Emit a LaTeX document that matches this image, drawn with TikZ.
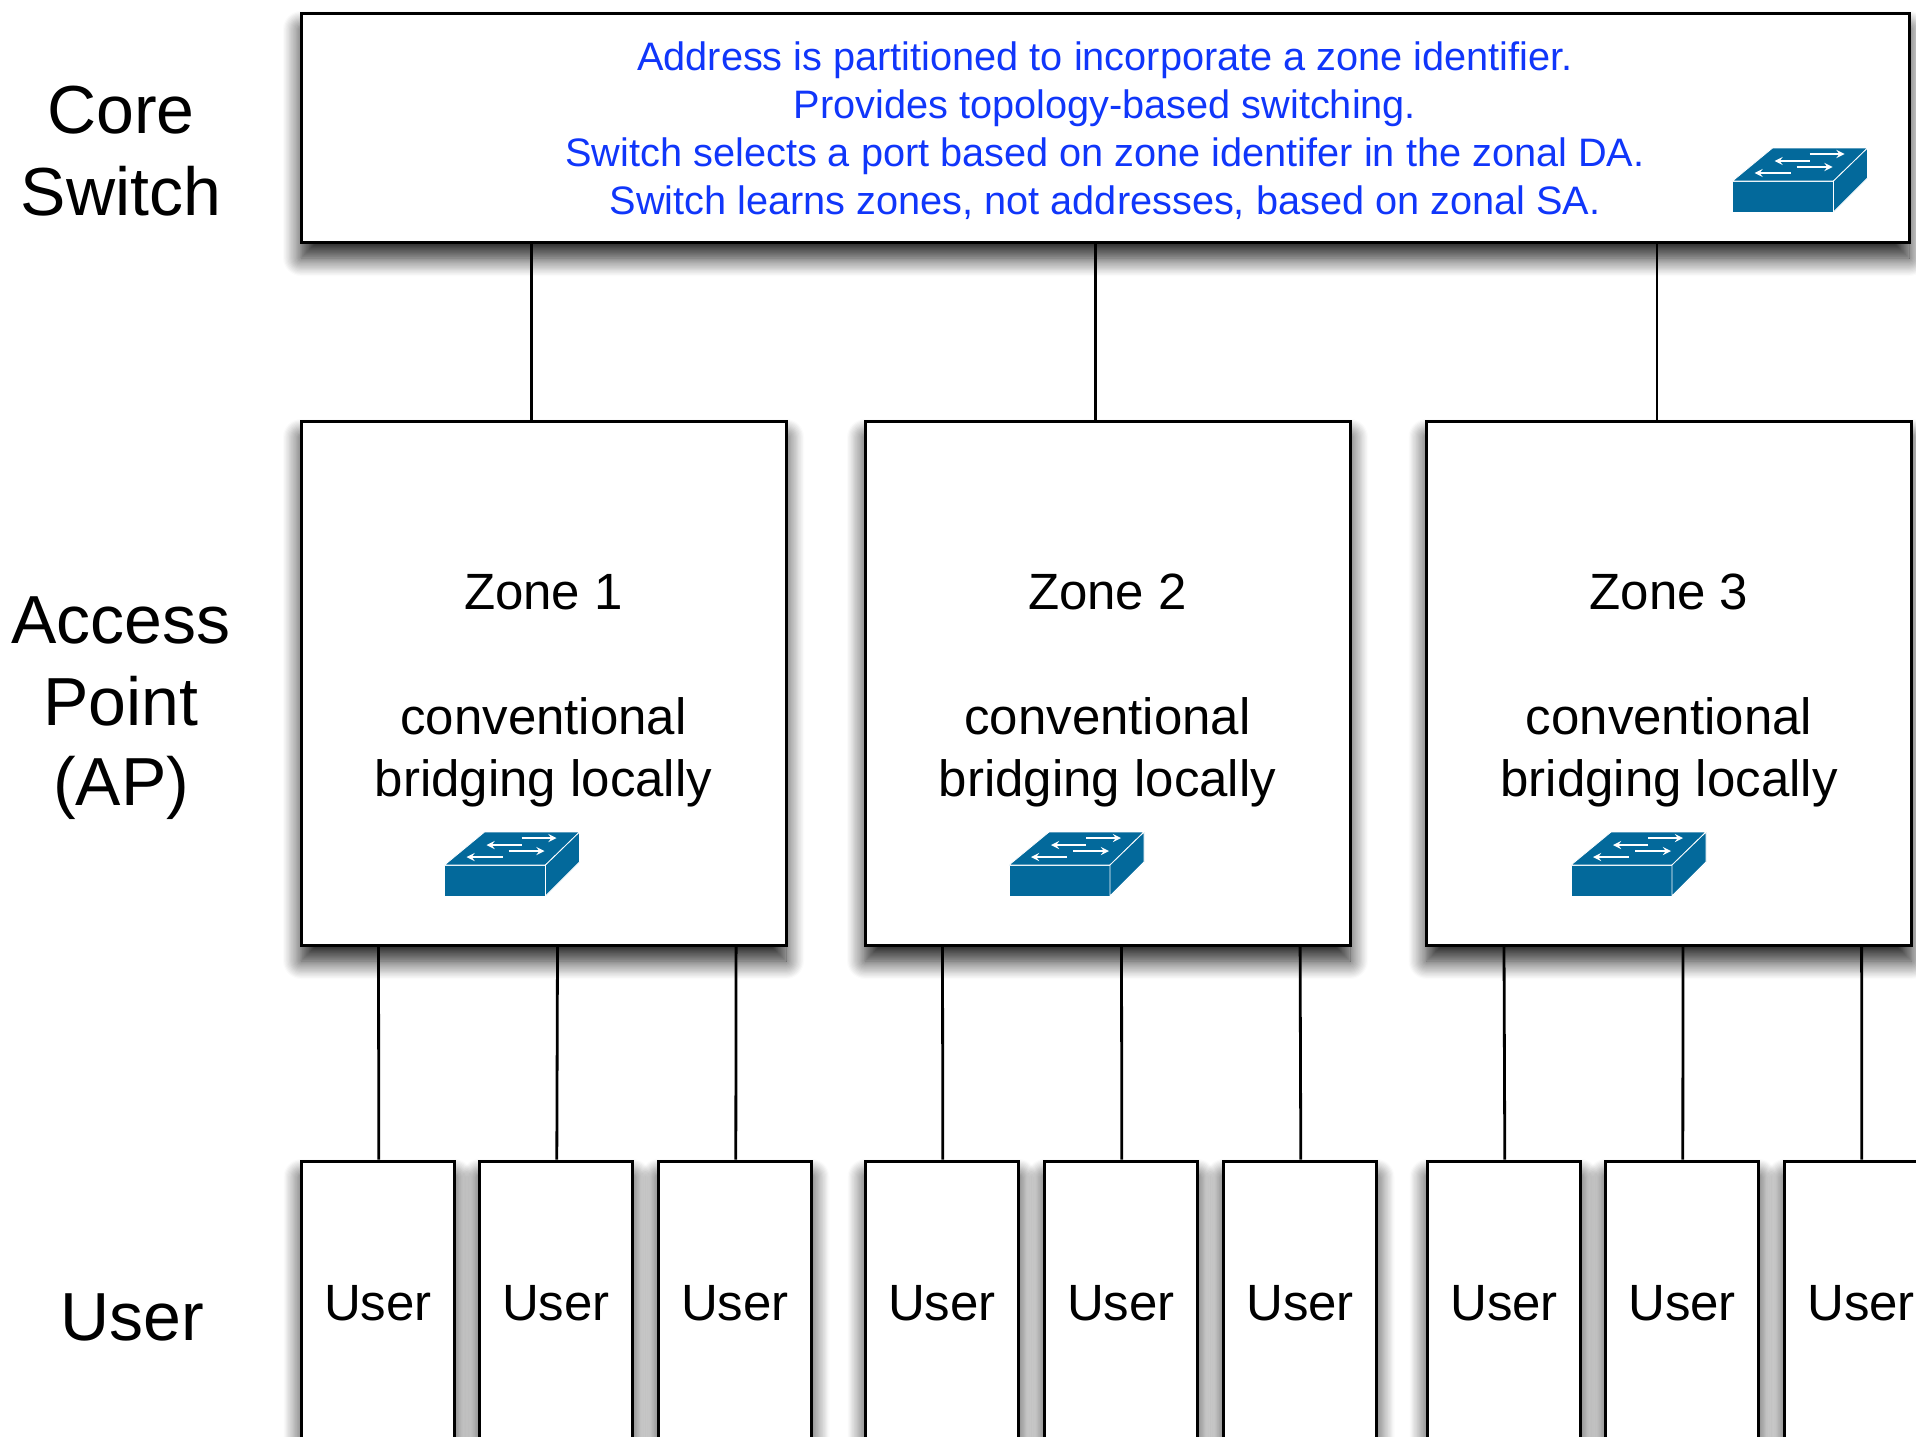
\documentclass[tikz,border=0pt]{standalone}
\usepackage{fontspec}
\setmainfont{Liberation Sans}
\usetikzlibrary{arrows,calc,shadows.blur}
\definecolor{switchblue}{HTML}{03699B}
\definecolor{noteblue}{HTML}{1036FA}
\tikzstyle{boxed}=[rectangle, draw=black, line width=1.5pt, fill=white, inner sep=0pt,
  blur shadow={shadow xshift=0pt, shadow yshift=-8pt, shadow blur radius=9pt, shadow blur steps=16, shadow opacity=90}]
\tikzstyle{core}=[boxed, minimum width=804pt, minimum height=114.5pt, align=center, text=noteblue, font=\fontsize{19.85}{24}\selectfont]
\tikzstyle{ap}=[boxed, minimum width=242.5pt, minimum height=262pt, align=center, font=\fontsize{25.5}{31}\selectfont]
\tikzstyle{user}=[boxed, minimum width=76.5pt, minimum height=142.5pt, font=\fontsize{25.5}{31}\selectfont]
\tikzstyle{lab}=[align=center, font=\fontsize{34}{41}\selectfont]
\tikzstyle{wire}=[draw=black, line width=1.4pt]
\newcommand{\switchIcon}[2]{
	\begin{scope}[shift={(#1,#2)}]
		\fill[switchblue,draw=white,line width=0.4pt] (0,0) -- (101,0) -- (101,31) -- (0,31) -- cycle;
		\fill[switchblue,draw=white,line width=0.4pt] (0,0) -- (40,-33) -- (135,-33) -- (101,0) -- cycle;
		\fill[switchblue,draw=white,line width=0.4pt] (101,0) -- (135,-33) -- (135,-3) -- (101,31) -- cycle;
		\draw[white,line width=0.8pt,-stealth] (77,-27) -- (112,-27);
		\draw[white,line width=0.8pt,-stealth] (77,-20) -- (42,-20);
		\draw[white,line width=0.8pt,-stealth] (64,-14) -- (100,-14);
		\draw[white,line width=0.8pt,-stealth] (58,-8) -- (22,-8);
	\end{scope}
}
\newcommand{\coreStrut}{\rule{0pt}{17.2pt}}
\newcommand{\apStrut}{\rule{0pt}{25.2pt}}

\begin{document}
\begin{tikzpicture}[x=0.5pt, y=-0.5pt]
      \useasboundingbox (0,0) rectangle (1916,1436);
      \clip (0,0) rectangle (1916,1436);
      % row labels
      \node at (121,151) [lab] (labcore) {Core\\Switch};
      \node at (121,708) [lab] (labap) {Access\\Point\\[-1pt](AP)};
      \node at (132,1317) [lab] (labuser) {User};
      % core switch
      \node at (1105,127.5) [core] (core) {\coreStrut Address is partitioned to incorporate a zone identifier.\\
        Provides topology-based switching.\\
        Switch selects a port based on zone identifer in the zonal DA.\\
        Switch learns zones, not addresses, based on zonal SA.};
      % access points
      \node at (543.5,683) [ap] (ap1) {\apStrut Zone 1\\[31.3pt]conventional\\bridging locally};
      \node at (1107.5,683) [ap] (ap2) {\apStrut Zone 2\\[31.3pt]conventional\\bridging locally};
      \node at (1669,683) [ap] (ap3) {\apStrut Zone 3\\[31.3pt]conventional\\bridging locally};
      % users
      \node at (378,1303.5) [user] (u11) {User};
      \node at (556,1303.5) [user] (u12) {User};
      \node at (735,1303.5) [user] (u13) {User};
      \node at (942,1303.5) [user] (u21) {User};
      \node at (1121,1303.5) [user] (u22) {User};
      \node at (1300,1303.5) [user] (u23) {User};
      \node at (1504,1303.5) [user] (u31) {User};
      \node at (1682,1303.5) [user] (u32) {User};
      \node at (1861,1303.5) [user] (u33) {User};
      % switch icons
      \switchIcon{1732.5}{181}
      \switchIcon{444.5}{865}
      \switchIcon{1009}{865}
      \switchIcon{1571}{865}
      % wires
      \draw[wire] ([xshift=-6pt]ap1.north |- core.south) -- ([xshift=-6pt]ap1.north);
      \draw[wire] ([xshift=-6pt]ap2.north |- core.south) -- ([xshift=-6pt]ap2.north);
      \draw[wire] ([xshift=-6pt]ap3.north |- core.south) -- ([xshift=-6pt]ap3.north);
      \draw[wire] ([xshift=39.5pt]ap1.south west) -- ([xshift=.4pt]u11.north);
      \draw[wire] ([xshift=129pt]ap1.south west) -- ([xshift=.4pt]u12.north);
      \draw[wire] ([xshift=218.3pt]ap1.south west) -- ([xshift=.4pt]u13.north);
      \draw[wire] ([xshift=39.5pt]ap2.south west) -- ([xshift=.4pt]u21.north);
      \draw[wire] ([xshift=129pt]ap2.south west) -- ([xshift=.4pt]u22.north);
      \draw[wire] ([xshift=218.3pt]ap2.south west) -- ([xshift=.4pt]u23.north);
      \draw[wire] ([xshift=39.5pt]ap3.south west) -- ([xshift=.4pt]u31.north);
      \draw[wire] ([xshift=129pt]ap3.south west) -- ([xshift=.4pt]u32.north);
      \draw[wire] ([xshift=218.3pt]ap3.south west) -- ([xshift=.4pt]u33.north);
      %
\end{tikzpicture}
\end{document}
